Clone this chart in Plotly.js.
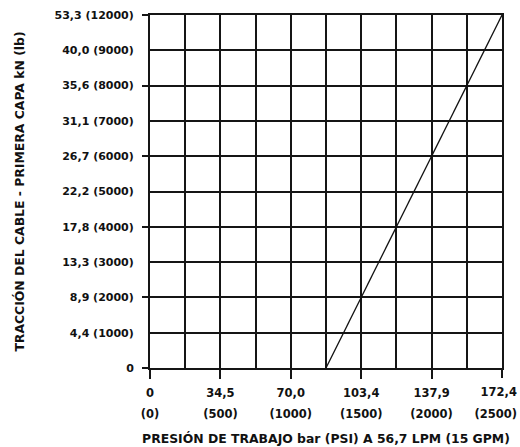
<!DOCTYPE html>
<html><head><meta charset="utf-8">
<script src="https://cdn.plot.ly/plotly-3.0.1.min.js"></script>
<style>body{margin:0;background:#fff}#c{width:520px;height:447px}</style>
</head><body><div id="c"></div>
<script>
// Pressure (PSI) and cable pull (lb)
const pressurePsi = [1250, 2500];
const pullLb = [0, 12000];
// Y axis tick labels (the axis is evenly spaced per label, top jumps to 12000)
const yTickLb = [0, 1000, 2000, 3000, 4000, 5000, 6000, 7000, 8000, 9000, 12000];
const yTickText = ['0', '4,4 (1000)', '8,9 (2000)', '13,3 (3000)', '17,8 (4000)', '22,2 (5000)',
  '26,7 (6000)', '31,1 (7000)', '35,6 (8000)', '40,0 (9000)', '53,3 (12000)'];
const xTickPsi = [0, 500, 1000, 1500, 2000, 2500];
const xTickBar = ['0', '34,5', '70,0', '103,4', '137,9', '172,4'];
const xTickPsiText = ['(0)', '(500)', '(1000)', '(1500)', '(2000)', '(2500)'];

const yPos = yTickLb.map((v, i) => i);
const toPos = lb => yPos[yTickLb.indexOf(lb)];
const yMajorTickPos = yPos.filter(p => p % 2 === 0);
const nX = xTickPsi.length - 1;

const fam = 'DejaVu Sans, sans-serif';
const font = {family: fam, size: 11, color: '#111', weight: 700};
const xTickFont = {family: fam, size: 11.5, color: '#111', weight: 700};
const titleFont = {family: fam, size: 12.4, color: '#111', weight: 700};
const lineC = '#151515';
const gw = 2;

const data = [{
  x: pressurePsi, y: pullLb.map(toPos), type: 'scatter', mode: 'lines',
  line: {color: '#111', width: 1.3}, hoverinfo: 'skip', showlegend: false
}, {x: [], y: [], xaxis: 'x2', yaxis: 'y2', type: 'scatter', showlegend: false},
   {x: [], y: [], xaxis: 'x3', type: 'scatter', showlegend: false},
   {x: [], y: [], xaxis: 'x4', type: 'scatter', showlegend: false}];

// Shared settings for the overlay x axes that only carry labels
const overlayX = (vals, text, standoff, pos) => ({
  overlaying: 'x', side: 'bottom', anchor: 'y', range: [0, 2500], tickmode: 'array',
  tickvals: vals, ticktext: text, tickangle: 0, ticks: 'outside', ticklen: 9,
  tickwidth: gw, tickcolor: pos ? lineC : 'rgba(0,0,0,0)', ticklabelstandoff: standoff,
  ticklabeloverflow: 'allow', ticklabelposition: pos || 'outside', ticklabelshift: pos ? 16 : 0,
  showgrid: false, zeroline: false, showline: false, tickfont: xTickFont, fixedrange: true
});

const layout = {
  width: 520, height: 447,
  margin: {l: 150, r: 18, t: 15, b: 79},
  paper_bgcolor: '#fff', plot_bgcolor: '#fff',
  font: font,
  showlegend: false,
  xaxis: {
    range: [0, 2500], tickmode: 'array', tickvals: xTickPsi.slice(0, nX), ticktext: xTickBar.slice(0, nX), tickangle: 0,
    ticks: 'outside', ticklen: 9, tickwidth: gw, tickcolor: lineC, ticklabelstandoff: 4,
    ticklabeloverflow: 'allow',
    showgrid: true, gridcolor: lineC, gridwidth: gw,
    minor: {dtick: 250, tick0: 0, showgrid: true, gridcolor: lineC, gridwidth: gw, ticks: ''},
    zeroline: false, showline: true, mirror: true, linecolor: lineC, linewidth: gw,
    tickfont: xTickFont, fixedrange: true,
    title: {text: 'PRESIÓN DE TRABAJO bar (PSI) A 56,7 LPM (15 GPM)', font: titleFont, standoff: 36}
  },
  xaxis2: overlayX(xTickPsi.slice(0, nX), xTickPsiText.slice(0, nX), 26, null),
  xaxis3: overlayX(xTickPsi.slice(nX), xTickBar.slice(nX), 13, 'outside left'),
  xaxis4: overlayX(xTickPsi.slice(nX), xTickPsiText.slice(nX), 35, 'outside left'),
  yaxis: {
    range: [0, 10], tickmode: 'array', tickvals: yPos, ticktext: yTickText,
    ticks: 'outside', ticklen: 7, tickcolor: 'rgba(0,0,0,0)', ticklabelstandoff: 5,
    showgrid: true, gridcolor: lineC, gridwidth: gw,
    zeroline: false, showline: true, mirror: true, linecolor: lineC, linewidth: gw,
    tickfont: font, fixedrange: true,
    title: {text: 'TRACCIÓN DEL CABLE - PRIMERA CAPA kN (lb)', font: titleFont, standoff: 27}
  },
  yaxis2: {
    overlaying: 'y', side: 'left', anchor: 'x', range: [0, 10], tickmode: 'array', tickvals: yMajorTickPos,
    ticks: 'outside', ticklen: 7, tickwidth: gw, tickcolor: lineC,
    showticklabels: false, showgrid: false, zeroline: false, showline: false, fixedrange: true
  }
};

Plotly.newPlot('c', data, layout, {displayModeBar: false, staticPlot: true});
</script>
</body></html>
